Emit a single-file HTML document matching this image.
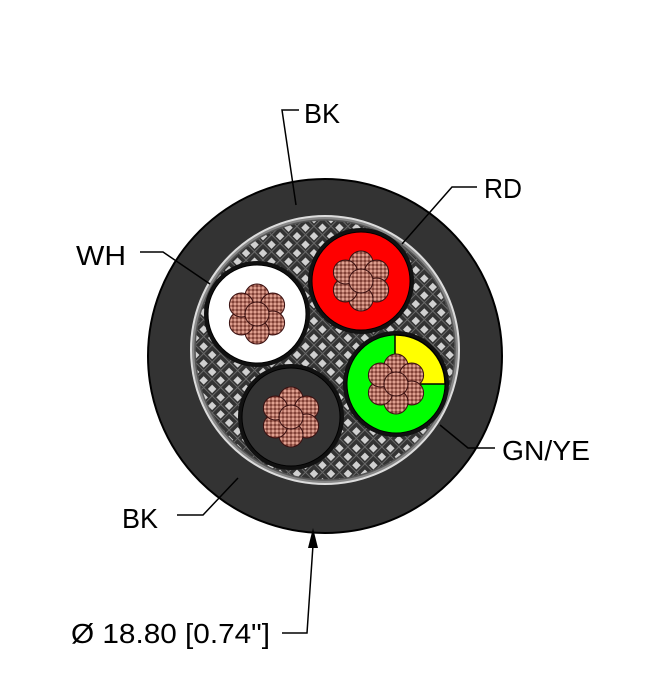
<!DOCTYPE html>
<html><head><meta charset="utf-8"><style>
html,body{margin:0;padding:0;background:#fff;}
svg{display:block;}
text{font-family:"Liberation Sans",sans-serif;font-size:28px;fill:#000;}
</style></head><body>
<svg width="653" height="700" viewBox="0 0 653 700" xmlns="http://www.w3.org/2000/svg">
<defs>
<pattern id="hatch" width="12" height="12" patternUnits="userSpaceOnUse" patternTransform="rotate(45)">
<rect width="12" height="12" fill="#333"/>
<rect x="2" y="2" width="6" height="6" fill="#d0d0d0"/>
<path d="M0 10H12M10 0V12" stroke="#6a6a6a" stroke-width="1"/>
</pattern>
<pattern id="dots" width="4" height="4" patternUnits="userSpaceOnUse">
<rect width="4" height="4" fill="#7a3a30"/>
<circle cx="2" cy="2" r="1.6" fill="#e0a090"/>
</pattern>
<g id="flower">
<circle cx="0" cy="-18" r="12" fill="url(#dots)" stroke="#3a1010" stroke-width="1"/>
<circle cx="15.6" cy="-9" r="12" fill="url(#dots)" stroke="#3a1010" stroke-width="1"/>
<circle cx="15.6" cy="9" r="12" fill="url(#dots)" stroke="#3a1010" stroke-width="1"/>
<circle cx="0" cy="18" r="12" fill="url(#dots)" stroke="#3a1010" stroke-width="1"/>
<circle cx="-15.6" cy="9" r="12" fill="url(#dots)" stroke="#3a1010" stroke-width="1"/>
<circle cx="-15.6" cy="-9" r="12" fill="url(#dots)" stroke="#3a1010" stroke-width="1"/>
<circle cx="0" cy="0" r="12" fill="url(#dots)" stroke="#3a1010" stroke-width="1"/>
</g>
</defs>
<circle cx="325" cy="356" r="177" fill="#333" stroke="#000" stroke-width="2"/>
<circle cx="325" cy="350" r="134" fill="#888" stroke="#ddd" stroke-width="2"/>
<circle cx="325" cy="350" r="130" fill="url(#hatch)" stroke="#555" stroke-width="1.5"/>
<circle cx="257" cy="314" r="53" fill="#111"/>
<circle cx="257" cy="314" r="49" fill="#fff" stroke="#000" stroke-width="1"/>
<use href="#flower" x="257" y="314"/>
<circle cx="361" cy="281" r="53" fill="#111"/>
<circle cx="361" cy="281" r="49" fill="#f00" stroke="#000" stroke-width="1"/>
<use href="#flower" x="361" y="281"/>
<circle cx="396" cy="384" r="53" fill="#111"/>
<circle cx="396" cy="384" r="49" fill="#0f0" stroke="#000" stroke-width="1"/>
<path d="M395 384V335A49 49 0 0 1 445 384Z" fill="#ff0" stroke="#000" stroke-width="1.5"/>
<use href="#flower" x="396" y="384"/>
<circle cx="291" cy="417" r="53" fill="#111"/>
<circle cx="291" cy="417" r="49" fill="#333" stroke="#000" stroke-width="1"/>
<use href="#flower" x="291" y="417"/>
<g fill="none" stroke="#000" stroke-width="1.5">
<polyline points="299,110 282,110 296,205"/>
<polyline points="477,187 452,187 402,244"/>
<polyline points="140,252 163,252 210,284"/>
<polyline points="495,448 468,448 440,425"/>
<polyline points="177,515 203,515 238,478"/>
<polyline points="282,633 307,633 313,545"/>
</g>
<polygon points="313,528 308,548 318,548" fill="#000"/>
<text x="304" y="123" textLength="36" lengthAdjust="spacingAndGlyphs">BK</text>
<text x="484" y="198" textLength="38" lengthAdjust="spacingAndGlyphs">RD</text>
<text x="76" y="265" textLength="50" lengthAdjust="spacingAndGlyphs">WH</text>
<text x="502" y="460" textLength="88" lengthAdjust="spacingAndGlyphs">GN/YE</text>
<text x="122" y="528" textLength="36" lengthAdjust="spacingAndGlyphs">BK</text>
<text x="71" y="643" textLength="199" lengthAdjust="spacingAndGlyphs">Ø 18.80 [0.74"]</text>
</svg>
</body></html>
